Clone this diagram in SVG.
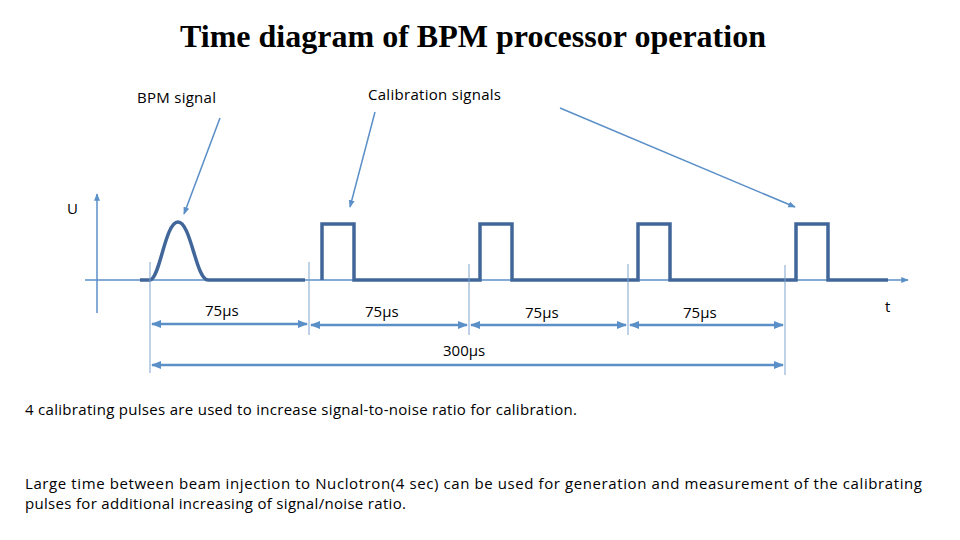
<svg xmlns="http://www.w3.org/2000/svg" width="960" height="540" viewBox="0 0 960 540">
<style>
.t{font-family:"Open Sans","Noto Sans",sans-serif;font-size:15px;fill:#000}
.ax{stroke:#5b8fc7;stroke-width:1.5;fill:none}
.sig{stroke:#41679a;stroke-width:3.5;fill:none;stroke-linejoin:miter}
.tk{stroke:#7fa3cc;stroke-width:1;fill:none}
.dim{stroke:#5b8fc7;stroke-width:2.5;fill:none}
.ptr{stroke:#5b8fc7;stroke-width:1.5;fill:none}
</style>
<defs>
<marker id="a" viewBox="0 0 10 10" refX="9" refY="5" markerWidth="4" markerHeight="4" orient="auto-start-reverse"><path d="M0,1 L10,5 L0,9 z" fill="#5b8fc7"/></marker>
<marker id="p" viewBox="0 0 10 10" refX="9" refY="5" markerWidth="5" markerHeight="5" orient="auto"><path d="M0,1 L10,5 L0,9 z" fill="#5b8fc7"/></marker>
</defs>
<rect width="960" height="540" fill="#fff"/>
<text x="473" y="47" text-anchor="middle" font-family="Liberation Serif,serif" font-weight="bold" font-size="31" textLength="586" lengthAdjust="spacingAndGlyphs">Time diagram of BPM processor operation</text>
<g id="labels">
<text class="t" x="137" y="103" textLength="79">BPM signal</text>
<text class="t" x="368" y="100" textLength="133">Calibration signals</text>
<text class="t" x="67" y="214">U</text>
<text class="t" x="885" y="312">t</text>
</g>
<g id="axes">
<line class="ax" x1="85" y1="280" x2="908" y2="280" marker-end="url(#p)"/>
<line class="ax" x1="97" y1="313" x2="97" y2="194" marker-end="url(#p)"/>
</g>
<g id="signal">
<path class="sig" d="M140,280 H150 C160,279 165,222 178,222 C191,222 196,280 208,280 H305"/>
<path class="sig" d="M322,280 V224 H354 V280 H480 V224 H512 V280 H638 V224 H670 V280 H796 V224 H828 V280 H888"/>
</g>
<g id="connectors">
<line class="ptr" x1="220" y1="118" x2="184" y2="214" marker-end="url(#p)"/>
<line class="ptr" x1="375" y1="112" x2="350" y2="207" marker-end="url(#p)"/>
<line class="ptr" x1="560" y1="108" x2="795" y2="207" marker-end="url(#p)"/>
<line class="tk" x1="150" y1="262" x2="150" y2="373"/>
<line class="tk" x1="309" y1="262" x2="309" y2="335"/>
<line class="tk" x1="469" y1="264" x2="469" y2="335"/>
<line class="tk" x1="628" y1="264" x2="628" y2="335"/>
<line class="tk" x1="785" y1="265" x2="785" y2="375"/>
<line class="dim" x1="152" y1="324" x2="307" y2="324" marker-start="url(#a)" marker-end="url(#a)"/>
<line class="dim" x1="311" y1="325" x2="467" y2="325" marker-start="url(#a)" marker-end="url(#a)"/>
<line class="dim" x1="471" y1="325" x2="626" y2="325" marker-start="url(#a)" marker-end="url(#a)"/>
<line class="dim" x1="630" y1="325" x2="783" y2="325" marker-start="url(#a)" marker-end="url(#a)"/>
<line class="dim" x1="152" y1="365" x2="783" y2="365" marker-start="url(#a)" marker-end="url(#a)"/>
</g>
<g id="dims">
<text class="t" x="205" y="316">75µs</text>
<text class="t" x="365" y="317">75µs</text>
<text class="t" x="525" y="318">75µs</text>
<text class="t" x="683" y="318">75µs</text>
<text class="t" x="443" y="356">300µs</text>
</g>
<g id="notes">
<text class="t" x="25" y="415" textLength="552">4 calibrating pulses are used to increase signal-to-noise ratio for calibration.</text>
<text class="t" x="25" y="489" textLength="897">Large time between beam injection to Nuclotron(4 sec) can be used for generation and measurement of the calibrating</text>
<text class="t" x="25" y="509" textLength="381">pulses for additional increasing of signal/noise ratio.</text>
</g>
</svg>
